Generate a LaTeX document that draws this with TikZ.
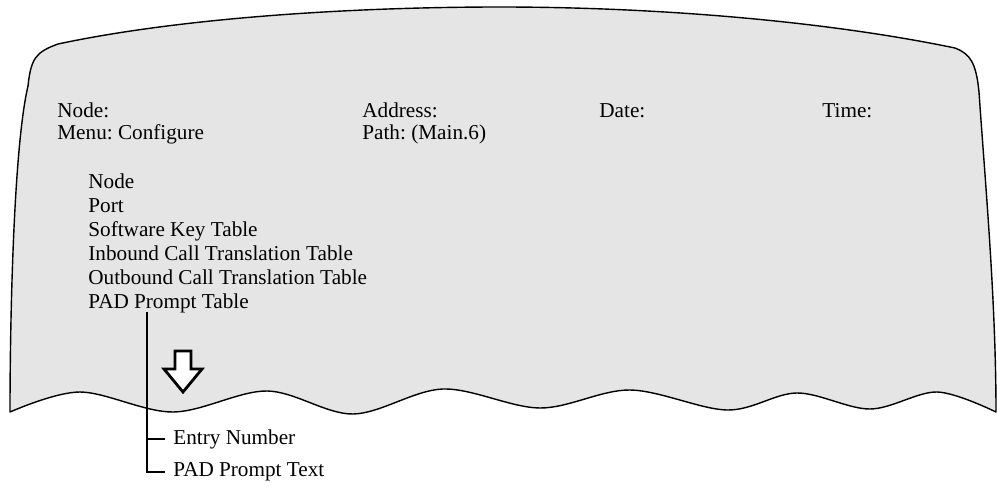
\documentclass[tikz,border=0pt]{standalone}
\usepackage{fontspec}
\setmainfont{Liberation Serif}
\usetikzlibrary{calc,positioning}
\frenchspacing

\begin{document}
\begin{tikzpicture}[line join=round, line cap=round,x=0.5pt,y=-0.5pt]
\tikzset{every node/.style={inner sep=0pt,font=\fontsize{10.6}{12}\selectfont},
  screen/.style={draw=black,fill=gray!20,line width=0.7pt},
  tree/.style={line width=1pt,line cap=butt,line join=miter},
  downarrow/.style={draw=black,fill=white,line width=1.4pt,line join=miter}}
\useasboundingbox (0,0) rectangle (997,487);
% torn screen
\draw[screen] (10,412) .. controls (10,330) and (13,150) .. (28,86)
  .. controls (31,58) and (36,52) .. (58,44)
  .. controls (180,18) and (350,7) .. (500,7)
  .. controls (650,7) and (820,20) .. (955,48)
  .. controls (970,54) and (976,62) .. (979,92)
  .. controls (985,180) and (996,300) .. (996,412)
  -- plot[smooth,tension=0.55] coordinates {(996,412) (937,392) (870,409) (797,393) (727,410) (630,390) (540,408) (443,389) (353,414) (267,391) (173,412) (80,392) (10,412)} -- cycle;
% header
\node[anchor=base west] (hnode) at (57,117) {Node:};
\node[anchor=base west] (haddr) at (362,117) {Address:};
\node[anchor=base west] (hdate) at (599,117) {Date:};
\node[anchor=base west] (htime) at (822,117) {Time:};
\node[anchor=base west] (hmenu) at (57,139) {Menu: Configure};
\node[anchor=base west] (hpath) at (362,139) {Path: (Main.6)};
% menu items
\foreach \t [count=\i] in {Node,Port,Software Key Table,Inbound Call Translation Table,Outbound Call Translation Table,PAD Prompt Table}
\node[anchor=base west] (item\i) at (88,{164+24*\i}) {\t};
% arrow
\draw[downarrow] (175,351) -- (191,351) -- (191,369) -- (202,369) -- (183,392) -- (164,369) -- (175,369) -- cycle;
% fields of the table
\coordinate (brtop) at (147,312);
\node[anchor=west,inner xsep=4pt] (entry) at (165,439) {Entry Number};
\node[anchor=west,inner xsep=4pt] (ptext) at (165,472) {PAD Prompt Text};
\draw[tree] (brtop) |- (entry.west);
\draw[tree] (brtop) |- (ptext.west);
\end{tikzpicture}
\end{document}
